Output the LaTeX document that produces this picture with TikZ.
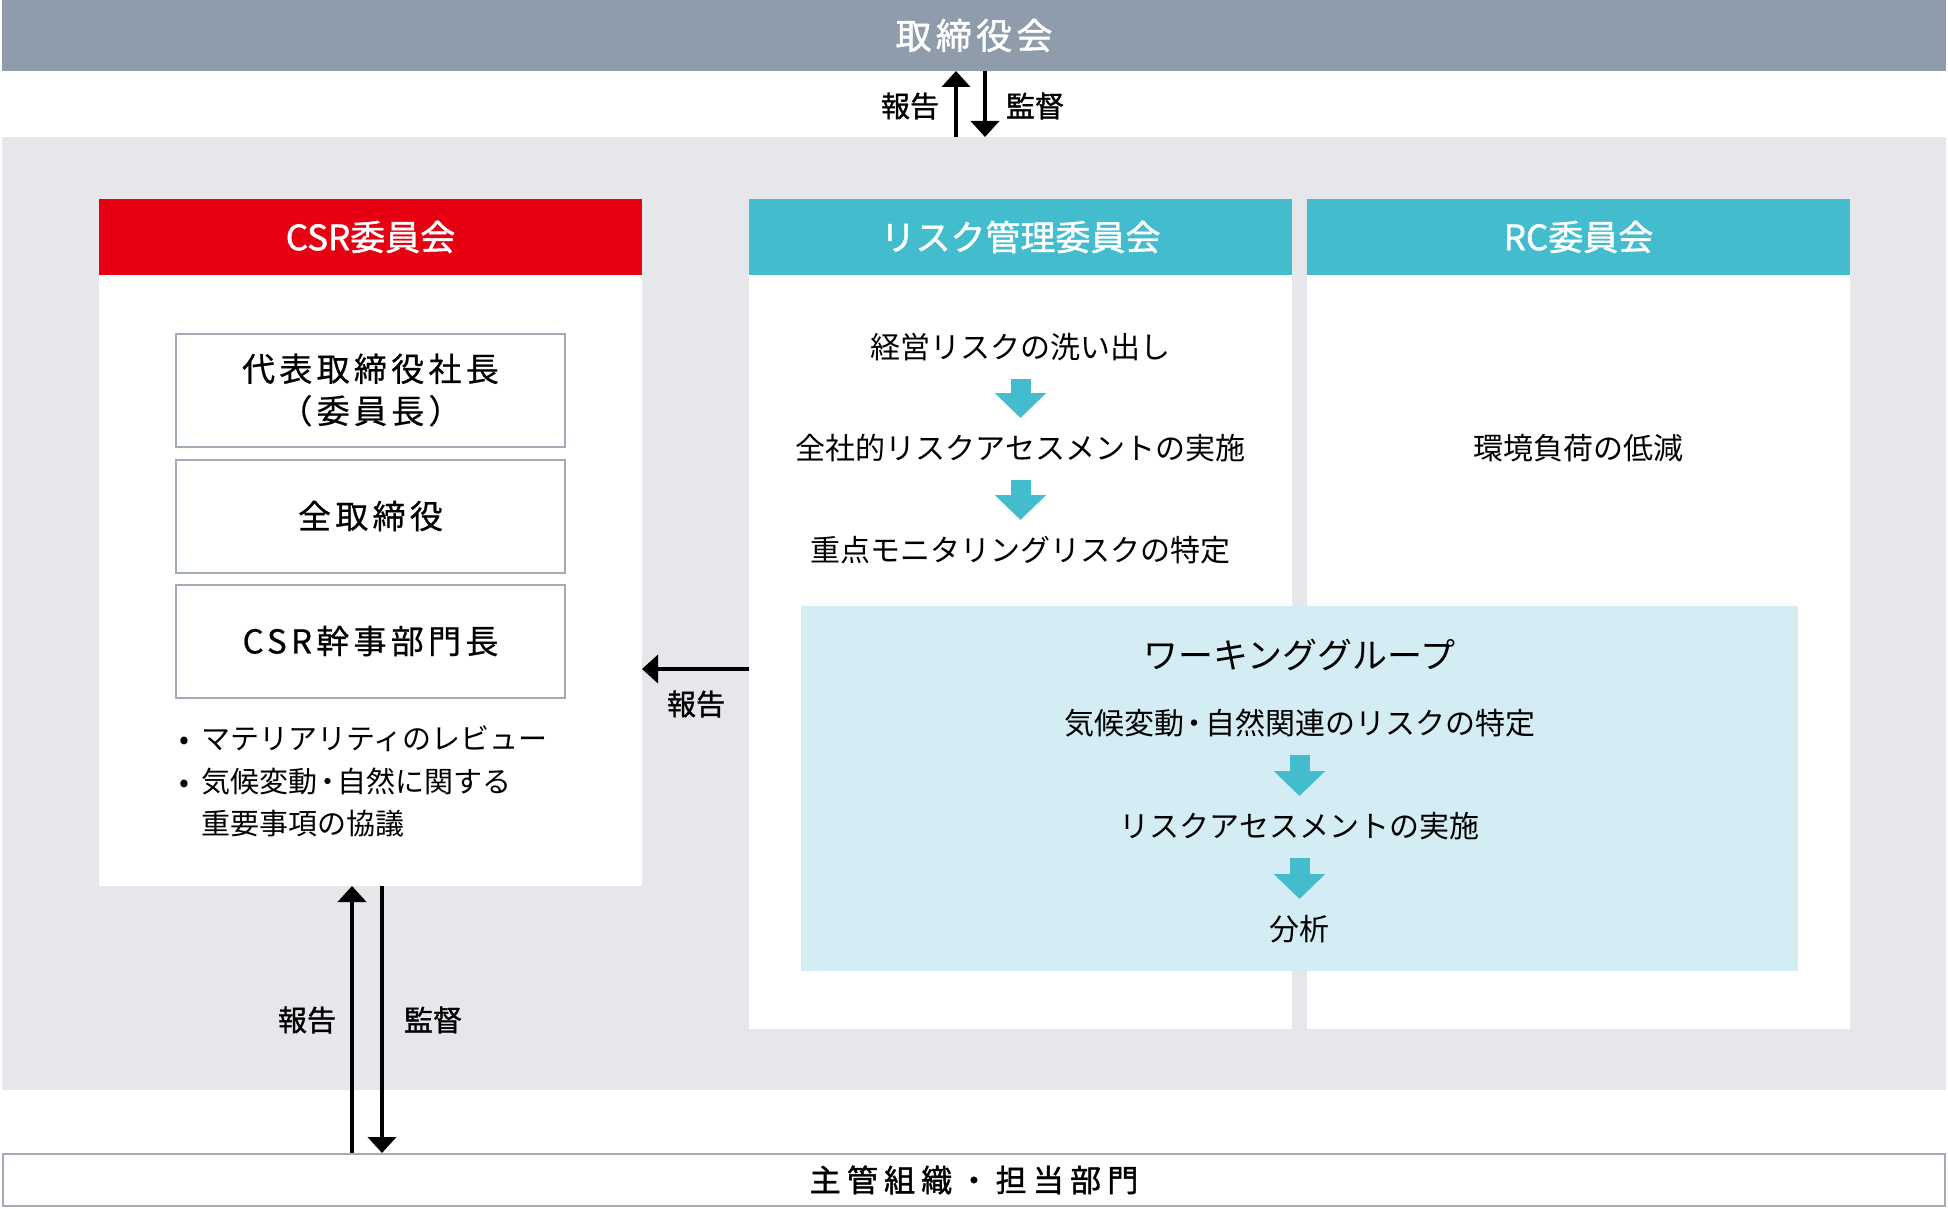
\documentclass[tikz,border=0pt]{standalone}
\usepackage{fontspec}
\setmainfont{Noto Sans CJK JP}
\newfontfamily\medjp[FakeBold=1.3]{Noto Sans CJK JP}
\newfontfamily\spacedjp[LetterSpace=13,FakeBold=0.6]{Noto Sans CJK JP}
\newfontfamily\spacedmed[LetterSpace=12,FakeBold=1.3]{Noto Sans CJK JP}
\newfontfamily\widemed[LetterSpace=20,FakeBold=1.3]{Noto Sans CJK JP}
\usetikzlibrary{positioning,arrows.meta}
\definecolor{boardgray}{HTML}{8E9CAC}
\definecolor{panelgray}{HTML}{E5E7EB}
\definecolor{csrred}{HTML}{E60012}
\definecolor{riskteal}{HTML}{43BDCE}
\definecolor{wgblue}{HTML}{D4ECF4}
\definecolor{framegray}{HTML}{A3ABB7}
\tikzset{
  colhead/.style={fill=#1, text=white, minimum width=271.5pt, minimum height=38pt, inner sep=0pt, outer sep=0pt, font=\medjp\fontsize{17.5pt}{20pt}\selectfont},
  colbody/.style={fill=white, minimum width=271.5pt, minimum height=#1, inner sep=0pt, outer sep=0pt},
  member/.style={draw=framegray, line width=1pt, fill=white, minimum width=194.5pt, minimum height=56.5pt, inner sep=0pt, outer sep=0pt, align=center, font=\spacedjp\fontsize{16.5pt}{21pt}\selectfont},
  txt/.style={inner sep=0pt, font=\fontsize{15pt}{21pt}\selectfont},
  lbl/.style={inner sep=0pt, font=\medjp\fontsize{14.5pt}{16pt}\selectfont},
  flowarrow/.style={draw=riskteal, line width=10pt, -{Triangle[width=25pt,length=12.5pt]}, shorten <=16pt, shorten >=15pt},
  linkarrow/.style={line width=2pt, -{Triangle[width=14pt,length=8pt]}}
}
\begin{document}
\begin{tikzpicture}[x=0.5pt, y=-0.5pt]
\useasboundingbox (0,0) rectangle (1948,1209);
\node[fill=boardgray, minimum width=972pt, minimum height=35.5pt, inner sep=0pt, outer sep=0pt, text=white, font=\spacedmed\fontsize{18pt}{20pt}\selectfont] (board) at (974,35.5) {取締役会};
\node[fill=panelgray, minimum width=972pt, minimum height=476.5pt, inner sep=0pt, outer sep=0pt] (panel) at (974,613.5) {};
\node[draw=framegray, line width=1pt, fill=white, minimum width=971pt, minimum height=26pt, inner sep=0pt, font=\widemed\fontsize{15.5pt}{18pt}\selectfont] (base) at (974,1180) {主管組織・担当部門};

\node[colhead=csrred] (csrhead) at (370.5,237) {CSR委員会};
\node[colbody=305.5pt, below=0pt of csrhead] (csrbody) {};
\node[colhead=riskteal, right=53.5pt of csrhead] (riskhead) {リスク管理委員会};
\node[colbody=377pt, below=0pt of riskhead] (riskbody) {};
\node[colhead=riskteal, right=7.5pt of riskhead] (rchead) {RC委員会};
\node[colbody=377pt, below=0pt of rchead] (rcbody) {};

\node[member] (chair) at (370.5,390) {代表取締役社長\\（委員長）};
\node[member, below=6.5pt of chair] (directors) {全取締役};
\node[member, below=6pt of directors] (secretary) {CSR幹事部門長};
\node[txt, anchor=west, font=\fontsize{14.5pt}{21pt}\selectfont] (note1) at (179,739) {\makebox[11pt][l]{•}マテリアリティのレビュー};
\node[txt, anchor=west, font=\fontsize{14.5pt}{21pt}\selectfont] (note2) at (179,781) {\makebox[11pt][l]{•}気候変動\kern-.15em・\kern-.15em自然に関する};
\node[txt, anchor=west, font=\fontsize{14.5pt}{21pt}\selectfont] (note3) at (201,824) {重要事項の協議};

\node[txt] (risk1) at (1020.5,347) {経営リスクの洗い出し};
\node[txt, below of=risk1, node distance=50.5pt] (risk2) {全社的リスクアセスメントの実施};
\node[txt, below of=risk2, node distance=51pt] (risk3) {重点モニタリングリスクの特定};
\draw[flowarrow] (risk1.center) -- (risk2.center);
\draw[flowarrow] (risk2.center) -- (risk3.center);

\node[txt] (rc1) at (1578.5,448) {環境負荷の低減};

\node[fill=wgblue, minimum width=498.5pt, minimum height=182.5pt, inner sep=0pt, outer sep=0pt] (wg) at (1299.5,788.5) {};
\node[txt, font=\fontsize{17.5pt}{20pt}\selectfont] (wgtitle) at (1299.5,655) {ワーキンググループ};
\node[txt] (wg1) at (1299.5,723) {気候変動\kern-.15em・\kern-.15em自然関連のリスクの特定};
\node[txt, below of=wg1, node distance=51.5pt] (wg2) {リスクアセスメントの実施};
\node[txt, below of=wg2, node distance=51.5pt] (wg3) {分析};
\draw[flowarrow] (wg1.center) -- (wg2.center);
\draw[flowarrow] (wg2.center) -- (wg3.center);

\draw[linkarrow] ([xshift=-9pt]panel.north) -- ([xshift=-9pt]board.south);
\draw[linkarrow] ([xshift=5.5pt]board.south) -- ([xshift=5.5pt]panel.north);
\node[lbl] (toprep) at (910,106) {報告};
\node[lbl] (topsup) at (1035,106) {監督};

\coordinate (replevel) at (0,669);
\draw[linkarrow] (riskbody.west |- replevel) -- (csrbody.east |- replevel);
\node[lbl] (siderep) at (696,704) {報告};

\coordinate (upfoot) at ([xshift=-9.25pt]csrbody.south);
\coordinate (downtop) at ([xshift=5.75pt]csrbody.south);
\draw[linkarrow] (upfoot |- base.north) -- (upfoot);
\draw[linkarrow] (downtop) -- (downtop |- base.north);
\node[lbl] (botrep) at (307,1020) {報告};
\node[lbl] (botsup) at (433,1020) {監督};
\end{tikzpicture}
\end{document}
